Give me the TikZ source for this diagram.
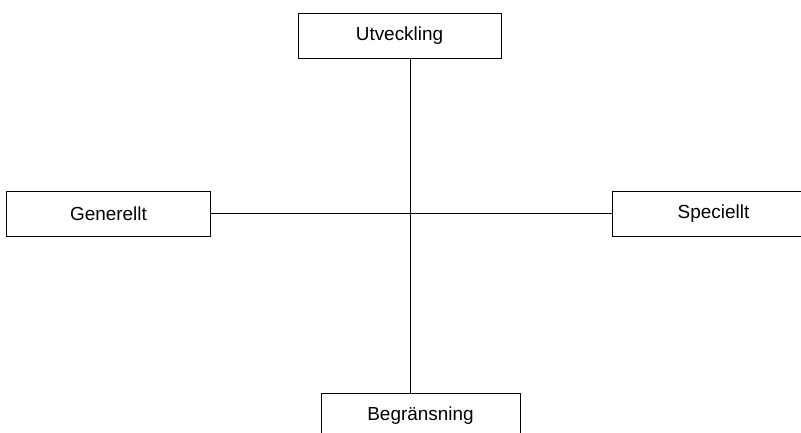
\documentclass[tikz,border=0pt]{standalone}
\usepackage{fontspec}
\setmainfont{Liberation Sans}
\tikzset{
  box/.style={draw, line width=1bp, minimum width=203bp, minimum height=45bp, inner sep=0pt, font=\fontsize{19}{23}\selectfont},
  link/.style={line width=1bp, -}
}
\begin{document}
\begin{tikzpicture}[x=1bp, y=-1bp]
    \useasboundingbox (0, 0) rectangle (801, 432);

    \node[box] (utv) at (399.5, 35.5) {Utveckling};
    \node[box] (gen) at (108.5, 213.5) {Generellt};
    \node[box] (spec) at (713.5, 214) {Speciellt};
    \node[box, minimum width=199bp] (begr) at (420.5, 415.5) {Begränsning};

    \coordinate (mitt) at (410.5, 213.5);

    \draw[link] (utv.south -| mitt) -- (begr.north -| mitt);
    \draw[link] (gen.east) -- (spec.west |- gen.east);
\end{tikzpicture}
\end{document}
